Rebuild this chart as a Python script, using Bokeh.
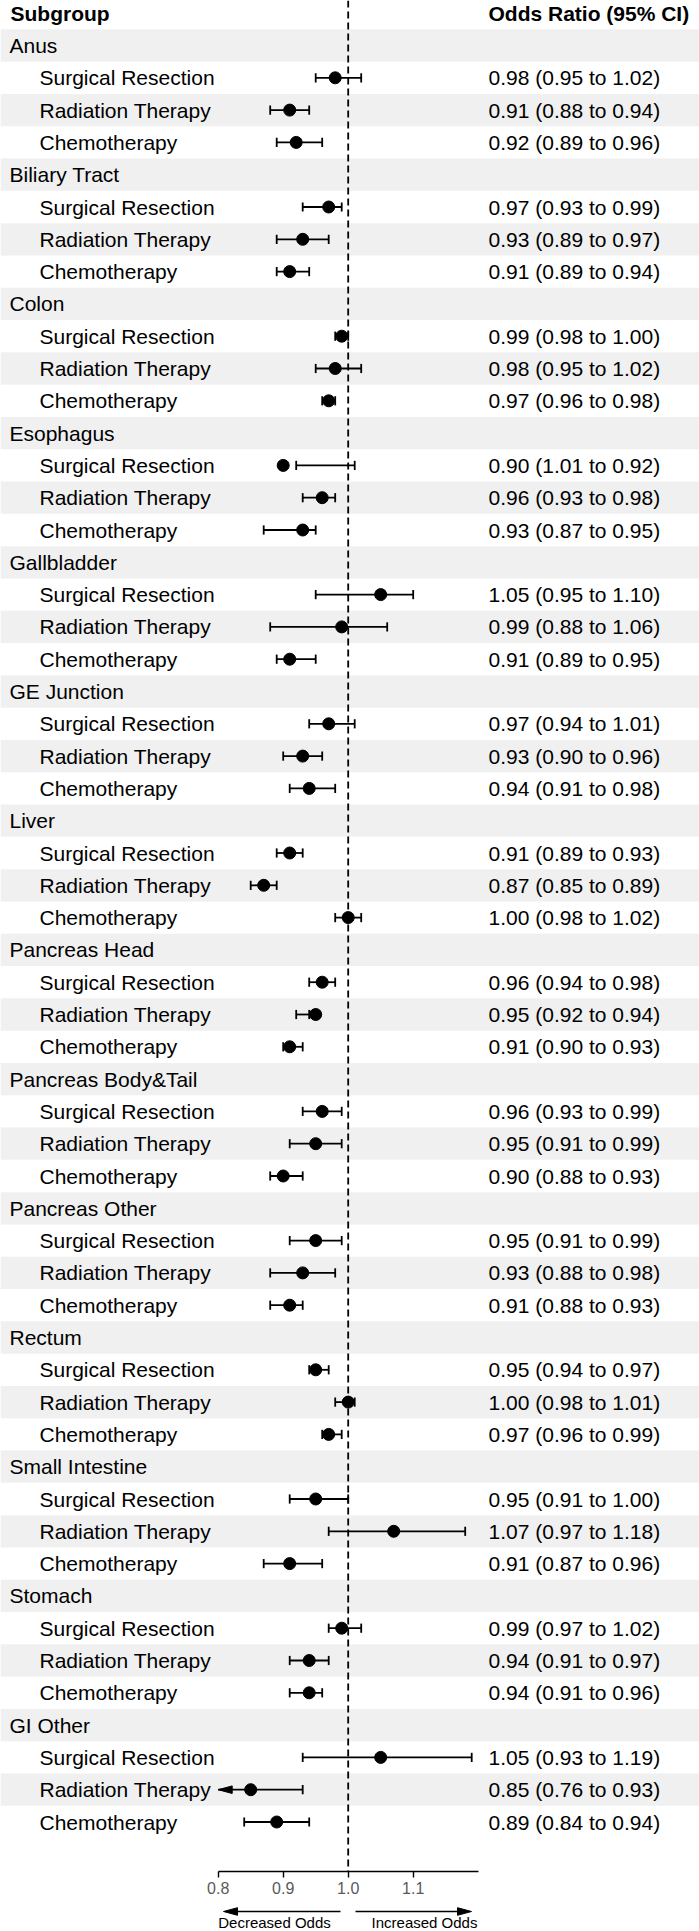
from bokeh.plotting import figure
from bokeh.models import Range1d, Span, FixedTicker, NumeralTickFormatter
from bokeh.layouts import column
from bokeh.core.properties import value
from bokeh.embed import file_html
from bokeh.resources import INLINE

# ---------------- data ----------------
groups = ["Anus", "Biliary Tract", "Colon", "Esophagus", "Gallbladder", "GE Junction",
          "Liver", "Pancreas Head", "Pancreas Body&Tail", "Pancreas Other", "Rectum",
          "Small Intestine", "Stomach", "GI Other"]
treatments = ["Surgical Resection", "Radiation Therapy", "Chemotherapy"]

odds_ratio = [0.98, 0.91, 0.92,
              0.97, 0.93, 0.91,
              0.99, 0.98, 0.97,
              0.90, 0.96, 0.93,
              1.05, 0.99, 0.91,
              0.97, 0.93, 0.94,
              0.91, 0.87, 1.00,
              0.96, 0.95, 0.91,
              0.96, 0.95, 0.90,
              0.95, 0.93, 0.91,
              0.95, 1.00, 0.97,
              0.95, 1.07, 0.91,
              0.99, 0.94, 0.94,
              1.05, 0.85, 0.89]
ci_lower = [0.95, 0.88, 0.89,
            0.93, 0.89, 0.89,
            0.98, 0.95, 0.96,
            1.01, 0.93, 0.87,
            0.95, 0.88, 0.89,
            0.94, 0.90, 0.91,
            0.89, 0.85, 0.98,
            0.94, 0.92, 0.90,
            0.93, 0.91, 0.88,
            0.91, 0.88, 0.88,
            0.94, 0.98, 0.96,
            0.91, 0.97, 0.87,
            0.97, 0.91, 0.91,
            0.93, 0.76, 0.84]
ci_upper = [1.02, 0.94, 0.96,
            0.99, 0.97, 0.94,
            1.00, 1.02, 0.98,
            0.92, 0.98, 0.95,
            1.10, 1.06, 0.95,
            1.01, 0.96, 0.98,
            0.93, 0.89, 1.02,
            0.98, 0.94, 0.93,
            0.99, 0.99, 0.93,
            0.99, 0.98, 0.93,
            0.97, 1.01, 0.99,
            1.00, 1.18, 0.96,
            1.02, 0.97, 0.96,
            1.19, 0.93, 0.94]
axis_ticks = [0.8, 0.9, 1.0, 1.1]
axis_limits = (0.8, 1.2)
reference_value = 1.0
header_left = "Subgroup"
header_right = "Odds Ratio (95% CI)"
left_note = "Decreased Odds"
right_note = "Increased Odds"

# ---------------- layout constants ----------------
W = 699
FRAME_H = 1871
AXIS_H = 30
FOOT_H = 30
REF_PX = 347.7          # screen x of the reference value
PX_PER_UNIT = 650.0     # pixels per 1.0 of odds ratio
ROW_PX = 32.3
ROW0_PX = 45.0
FONT = "Liberation Sans"


def px2x(px):
    return reference_value + (px - REF_PX) / PX_PER_UNIT


x_start = px2x(0)
x_end = px2x(W)
y_top = -ROW0_PX / ROW_PX
y_bottom = y_top + FRAME_H / ROW_PX

xr = Range1d(x_start, x_end)

p = figure(width=W, height=FRAME_H + AXIS_H, x_range=xr,
           y_range=Range1d(y_bottom, y_top), toolbar_location=None,
           output_backend="svg", min_border=0, min_border_bottom=AXIS_H,
           y_axis_location=None, x_axis_location="below")
p.outline_line_color = None
p.xgrid.visible = False
p.ygrid.visible = False
p.background_fill_color = "white"
p.border_fill_color = "white"

# rows
group_rows, item_rows, item_labels = [], [], []
for k, g in enumerate(groups):
    group_rows.append(4 * k)
    for j, t in enumerate(treatments):
        item_rows.append(4 * k + 1 + j)
        item_labels.append(t)
n_rows = 4 * len(groups)

band_rows = [r for r in range(n_rows) if r % 2 == 0]
p.hbar(y=band_rows, left=x_start, right=x_end, height=1.0,
       fill_color="#f0f0f0", line_color=None)

# reference line
p.add_layout(Span(location=reference_value, dimension="height",
                  line_color="black", line_width=1.8, line_dash="7 4"))

# error bars
lo_c, hi_c, seg_y = [], [], []
cap_x, cap_y0, cap_y1 = [], [], []
head_xs, head_ys = [], []
cap_h = 4.6 / ROW_PX
head_len = 14 / PX_PER_UNIT
head_w = 3.8 / ROW_PX
for r, lo, hi in zip(item_rows, ci_lower, ci_upper):
    a, b = min(lo, hi), max(lo, hi)
    left, right = max(a, axis_limits[0]), min(b, axis_limits[1])
    lo_c.append(left)
    hi_c.append(right)
    seg_y.append(r)
    if a >= axis_limits[0]:
        cap_x.append(a); cap_y0.append(r - cap_h); cap_y1.append(r + cap_h)
    else:
        tip = axis_limits[0]
        head_xs.append([tip, tip + head_len, tip + head_len])
        head_ys.append([r, r - head_w, r + head_w])
    if b <= axis_limits[1]:
        cap_x.append(b); cap_y0.append(r - cap_h); cap_y1.append(r + cap_h)
    else:
        tip = axis_limits[1]
        head_xs.append([tip, tip - head_len, tip - head_len])
        head_ys.append([r, r - head_w, r + head_w])

p.segment(x0=lo_c, x1=hi_c, y0=seg_y, y1=seg_y, line_color="black", line_width=1.8)
p.segment(x0=cap_x, x1=cap_x, y0=cap_y0, y1=cap_y1, line_color="black", line_width=1.8)
if head_xs:
    p.patches(xs=head_xs, ys=head_ys, fill_color="black", line_color="black")

p.scatter(x=odds_ratio, y=item_rows, size=12, fill_color="black", line_color="black")

# texts
txt = dict(text_font=value(FONT), text_font_size="21px", text_baseline="middle",
           text_align="left", text_color="black")
p.text(x=[px2x(9)] * len(groups), y=group_rows, text=groups, **txt)
p.text(x=[px2x(39)] * len(item_labels), y=item_rows, text=item_labels, **txt)
or_labels = [f"{e:.2f} ({l:.2f} to {u:.2f})" for e, l, u in zip(odds_ratio, ci_lower, ci_upper)]
p.text(x=[px2x(488)] * len(or_labels), y=item_rows, text=or_labels, **txt)
p.text(x=[px2x(10)], y=[-1], text=[header_left], text_font_style="bold", **txt)
p.text(x=[px2x(488)], y=[-1], text=[header_right], text_font_style="bold", **txt)

# axis
ax = p.xaxis[0]
ax.bounds = axis_limits
ax.ticker = FixedTicker(ticks=axis_ticks)
ax.formatter = NumeralTickFormatter(format="0.0")
ax.minor_tick_line_color = None
ax.major_tick_in = 0
ax.major_tick_out = 6
ax.axis_line_width = 1.4
ax.major_tick_line_width = 1.4
ax.axis_line_color = "black"
ax.major_tick_line_color = "black"
ax.major_label_text_font = FONT
ax.major_label_text_font_size = "16px"
ax.major_label_text_color = "#5a5a5a"
ax.major_label_standoff = 4

# footer with direction arrows
f = figure(width=W, height=FOOT_H, x_range=xr, y_range=Range1d(FOOT_H, 0),
           toolbar_location=None, output_backend="svg", min_border=0,
           x_axis_location=None, y_axis_location=None)
f.outline_line_color = None
f.xgrid.visible = False
f.ygrid.visible = False
f.border_fill_color = "white"
f.background_fill_color = "white"

ay = 10
fh_len = 14 / PX_PER_UNIT
fh_w = 3.8
l_from, l_to = px2x(340), px2x(223)
r_from, r_to = px2x(355), px2x(471)
f.segment(x0=[l_from, r_from], x1=[l_to + fh_len / 2, r_to - fh_len / 2], y0=[ay, ay], y1=[ay, ay],
          line_color="black", line_width=1.4)
f.patches(xs=[[l_to, l_to + fh_len, l_to + fh_len], [r_to, r_to - fh_len, r_to - fh_len]],
          ys=[[ay, ay - fh_w, ay + fh_w], [ay, ay - fh_w, ay + fh_w]],
          fill_color="black", line_color="black")
f.text(x=[px2x(274), px2x(424)], y=[20.5, 20.5], text=[left_note, right_note],
       text_font=value(FONT), text_font_size="15px", text_baseline="middle",
       text_align="center", text_color="black")

layout = column(p, f, spacing=0)
open("out.html", "w").write(file_html(layout, INLINE))
